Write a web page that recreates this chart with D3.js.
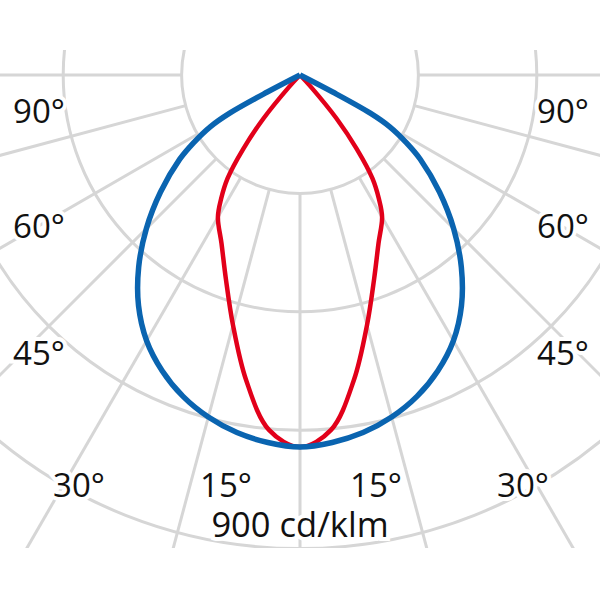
<!DOCTYPE html>
<html>
<head>
<meta charset="utf-8">
<script src="https://cdn.jsdelivr.net/npm/d3@7"></script>
<style>
body { margin: 0; background: #fff; }
text { font-family: "Open Sans", sans-serif; }
</style>
</head>
<body>
<div id="chart"></div>
<script>
// gamma angles (deg from nadir) and intensities (cd/klm), planes are symmetric
// C0-C180 plane (blue)
const blueAngles = [0, 5, 10, 15, 20, 25, 30, 35, 40, 45, 50, 55, 57.5, 60, 61.5, 62.5, 63.5];
const blueValues = [707, 701, 690, 673, 650, 620, 583, 535, 477, 413, 346, 279, 240, 197, 152, 70, 0];
// C90-C270 plane (red)
const redAngles = [0, 5, 10, 15, 20, 25, 30, 32.5, 35, 37.5, 40, 42.5, 45];
const redValues = [707, 677, 589, 492, 412, 353, 312, 279, 240, 177, 108, 30, 0];
const rings = [225, 450, 675, 900];
const angleLabels = ["90°", "60°", "45°", "30°", "15°"];
const unitLabel = "900 cd/klm";

const W = 600, H = 600;
const cx = 300, cy = 75;

var svg = d3.select("#chart")
    .append("svg")
    .attr("width", W)
    .attr("height", H);

svg.append("defs").append("clipPath")
    .attr("id", "clip")
    .append("rect")
    .attr("x", 0).attr("y", 50)
    .attr("width", W).attr("height", 498);

var g = svg.append("g")
    .attr("clip-path", "url(#clip)")
    .append("g")
    .attr("transform", "translate(" + cx + "," + cy + ")");

var r = d3.scaleLinear().domain([0, 900]).range([0, 473.6]);
const grid = "#d6d6d6";

// rings
g.selectAll(".ring")
  .data(rings)
  .join("circle")
    .attr("r", d => r(d))
    .attr("fill", "none")
    .attr("stroke", grid)
    .attr("stroke-width", 3);

// spokes every 15 deg, starting at the first ring
g.selectAll(".spoke")
  .data(d3.range(-180, 180, 15))
  .join("line")
    .attr("x1", d => r(rings[0]) * Math.sin(d * Math.PI / 180))
    .attr("y1", d => r(rings[0]) * Math.cos(d * Math.PI / 180))
    .attr("x2", d => 900 * Math.sin(d * Math.PI / 180))
    .attr("y2", d => 900 * Math.cos(d * Math.PI / 180))
    .attr("stroke", grid)
    .attr("stroke-width", 3);

// full curve, left half mirrored
function fullCurve(angs, vals) {
    var pts = [];
    for (var i = angs.length - 1; i > 0; i--) pts.push([-angs[i], vals[i]]);
    for (var i = 0; i < angs.length; i++) pts.push([angs[i], vals[i]]);
    return pts;
}

var radial = d3.lineRadial()
    .angle(d => Math.PI - d[0] * Math.PI / 180)
    .radius(d => r(d[1]))
    .curve(d3.curveCatmullRom.alpha(0.5));

g.append("path")
    .datum(fullCurve(redAngles, redValues))
    .attr("d", radial)
    .attr("fill", "none")
    .attr("stroke", "#e2001a")
    .attr("stroke-width", 4.5)
    .attr("stroke-linejoin", "round");

g.append("path")
    .datum(fullCurve(blueAngles, blueValues))
    .attr("d", radial)
    .attr("fill", "none")
    .attr("stroke", "#0a64b0")
    .attr("stroke-width", 5.5)
    .attr("stroke-linejoin", "round");

// angle labels, left side and mirrored right side
var labelPos = [[39, 123], [39, 238], [39, 365], [79, 497], [226, 497]];
var labels = [];
angleLabels.forEach(function(t, i) {
    labels.push({ t: t, x: labelPos[i][0], y: labelPos[i][1], s: 33 });
    labels.push({ t: t, x: W - labelPos[i][0] + 2, y: labelPos[i][1], s: 33 });
});
labels.push({ t: unitLabel, x: cx, y: 537, s: 34.5 });

svg.selectAll(".lbl")
  .data(labels)
  .join("text")
    .attr("x", d => d.x)
    .attr("y", d => d.y)
    .attr("text-anchor", "middle")
    .attr("font-size", d => d.s)
    .attr("fill", "#111")
    .attr("stroke", "#fff")
    .attr("stroke-width", 8)
    .attr("paint-order", "stroke")
    .text(d => d.t);
</script>
</body>
</html>
